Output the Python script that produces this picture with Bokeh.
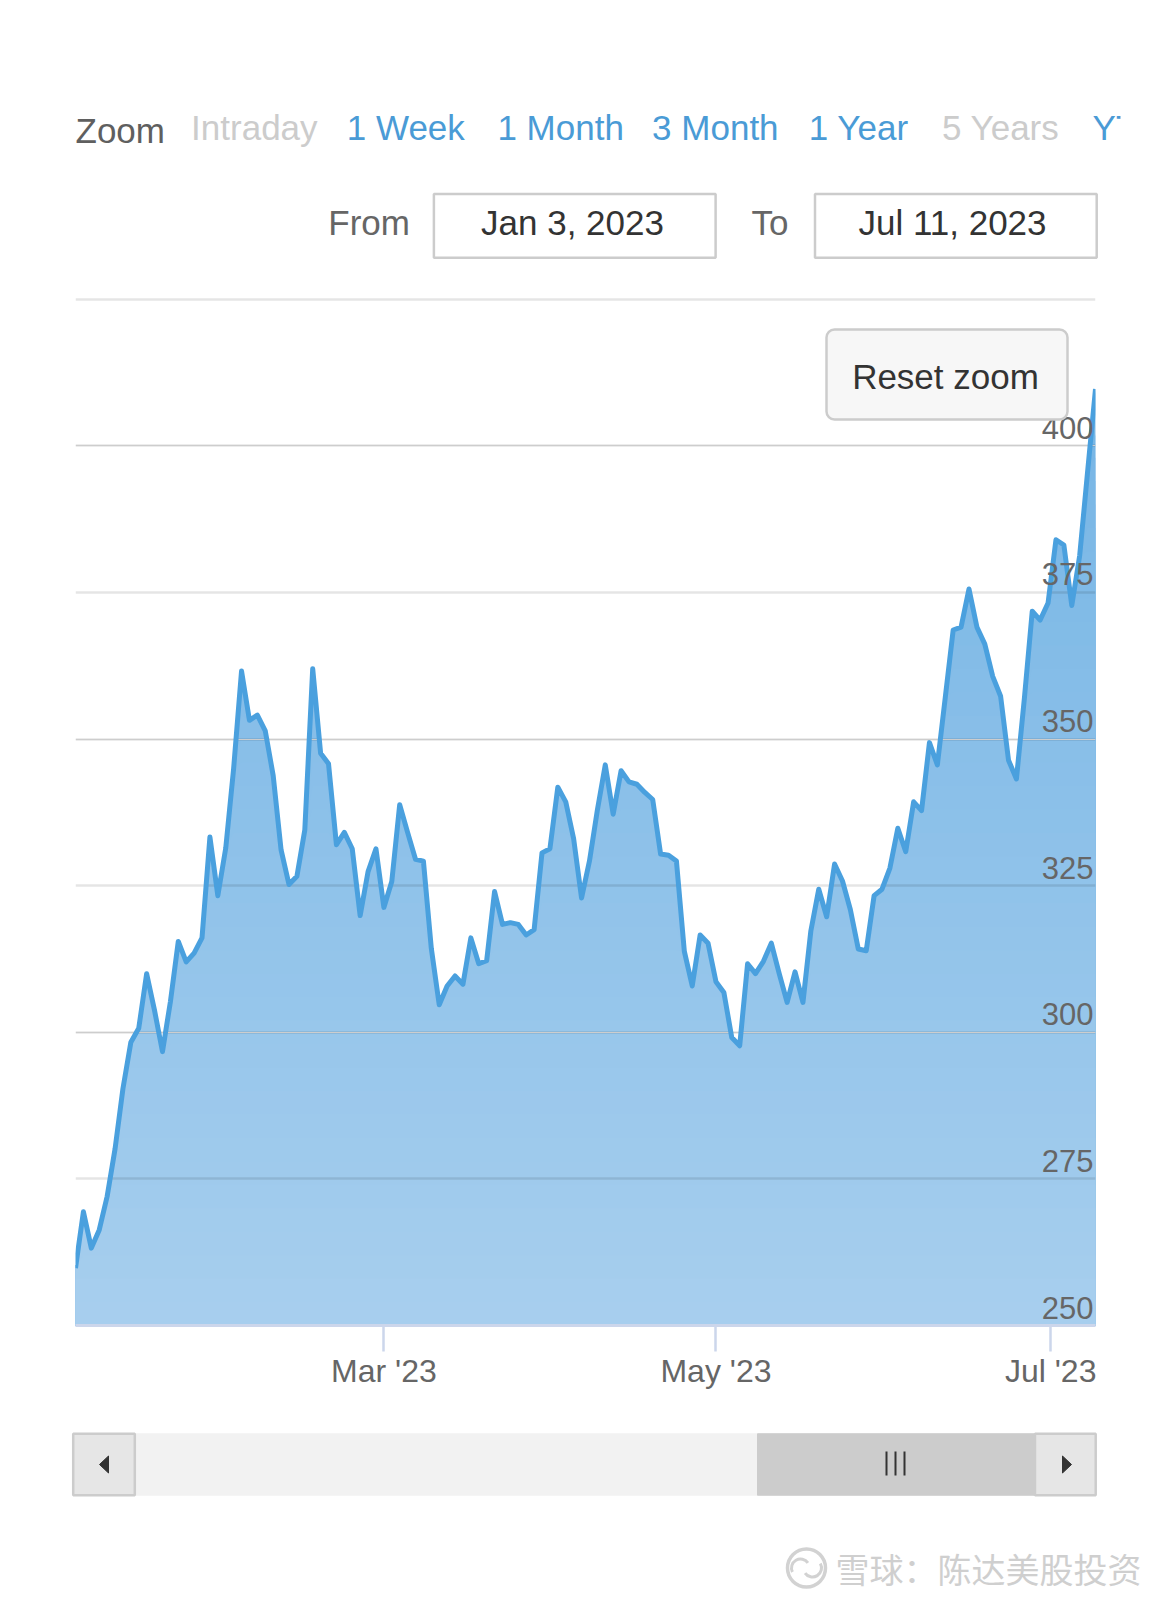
import numpy as np
import pandas as pd
from bokeh.plotting import figure
from bokeh.models import Range1d, FixedTicker, BoxAnnotation, Label, Grid, CustomJSTickFormatter
from bokeh.layouts import column
from bokeh.embed import file_html
from bokeh.resources import INLINE
from bokeh.core.properties import value

# ---------------- data ----------------
FIRST_DAY = "2023-01-03"
LAST_DAY = "2023-07-11"
MARKET_HOLIDAYS = ["2023-01-16", "2023-02-20", "2023-04-07",
                   "2023-05-29", "2023-06-19", "2023-07-04"]

CLOSE = [
    259.8, 269.4, 263.2, 266.3, 272.0, 280.1, 290.4, 298.3, 300.7, 310.0,
    303.7, 296.7, 305.2, 315.5, 312.0, 313.5, 316.1, 333.3, 323.3, 331.4,
    345.0, 361.6, 353.2, 354.1, 351.4, 343.8, 331.1, 325.2, 326.6, 334.5,
    362.0, 347.6, 345.8, 332.0, 334.1, 331.3, 319.9, 327.4, 331.3, 321.3,
    325.7, 338.8, 334.1, 329.5, 329.2, 314.3, 304.7, 307.9, 309.6, 308.2,
    316.1, 311.7, 312.2, 324.0, 318.4, 318.7, 318.4, 316.6, 317.5, 330.6,
    331.3, 341.8, 339.3, 333.0, 322.9, 329.2, 337.9, 345.6, 337.2, 344.6,
    342.7, 342.3, 340.9, 339.7, 330.4, 330.2, 329.2, 313.8, 307.9, 316.6,
    315.2, 308.6, 306.8, 299.1, 297.7, 311.7, 310.0, 312.1, 315.2, 310.0,
    305.1, 310.3, 305.1, 317.3, 324.4, 319.7, 328.7, 325.8, 320.9, 314.2,
    313.9, 323.3, 324.4, 328.0, 334.8, 330.8, 339.3, 337.8, 349.4, 345.6,
    357.1, 368.6, 369.1, 375.6, 369.1, 366.2, 360.7, 357.3, 346.4, 343.2,
    356.9, 371.8, 370.3, 373.2, 384.0, 383.1, 372.8, 381.3, 395.6, 409.7,
]

Y_TICKS = [250, 275, 300, 325, 350, 375, 400, 425]
Y_TICK_LABELS = ["250", "275", "300", "325", "350", "375", "400"]
X_TICK_DATES = ["2023-03-01", "2023-05-01", "2023-07-01"]
X_TICK_LABELS = ["Mar '23", "May '23", "Jul '23"]

RANGE_BUTTONS = ["Intraday", "1 Week", "1 Month", "3 Month", "1 Year", "5 Years", "YTD"]
RANGE_BUTTON_ACTIVE = [False, True, True, True, True, False, True]
ZOOM_LABEL = "Zoom"
FROM_LABEL = "From"
TO_LABEL = "To"
FROM_DATE = "Jan 3, 2023"
TO_DATE = "Jul 11, 2023"
RESET_LABEL = "Reset zoom"
WATERMARK = "雪球：陈达美股投资"

# ---------------- styles ----------------
FONT = "Liberation Sans"
CJK = "Noto Sans CJK SC"
LINE_BLUE = "#4aa0de"
FILL_TOP_RGB = (118, 181, 229)     # fill colour near the top of the series
FILL_BOTTOM_RGB = (168, 207, 238)  # fill colour at the axis
GRADIENT_TOP = 410
LINK_BLUE = "#4a9bd6"
AXIS = "#ccd6eb"
LABEL_GRAY = "#666666"
PAGE_W = 1170

Y_MIN, Y_MAX = 250, 426.5
FRAME_LEFT, FRAME_W = 75, 1020
HEAD_H = 290
FRAME_H = 1035
BOTTOM_H = 75
FOOT_H = 207

dates = pd.bdate_range(FIRST_DAY, LAST_DAY, freq="C", holidays=MARKET_HOLIDAYS)
n = len(dates)
idx = np.arange(n)
vals = np.array(CLOSE[:n], dtype=float)
tick_pos = [float(t) for t in np.interp(pd.to_datetime(X_TICK_DATES).asi8, dates.asi8, idx)]


def clean(fig):
    fig.outline_line_color = None
    fig.background_fill_color = "white"
    fig.border_fill_color = "white"
    try:
        fig.frame_align = False
    except Exception:
        pass


def screen_fig(h):
    f = figure(width=PAGE_W, height=h, x_range=Range1d(0, PAGE_W), y_range=Range1d(h, 0),
               x_axis_location=None, y_axis_location=None, output_backend="svg",
               toolbar_location=None, min_border=0)
    clean(f)
    f.grid.visible = False
    return f


def mix(t):
    c = [b + t * (a - b) for a, b in zip(FILL_TOP_RGB, FILL_BOTTOM_RGB)]
    return "#%02x%02x%02x" % tuple(int(round(v)) for v in c)


# ---------------- header (range selector + inputs) ----------------
head = screen_fig(HEAD_H)
head.text(x=[75], y=[129.6], text=[ZOOM_LABEL], text_font=value(FONT), text_font_size="35px",
          text_color="#5f5f5f", text_baseline="middle", text_align="left")
btn_x = [190.6, 346.3, 496.9, 651.6, 808.3, 941.5, 1092.1]
head.text(x=btn_x, y=[127] * len(btn_x), text=RANGE_BUTTONS, text_font=value(FONT),
          text_font_size="35px",
          text_color=[LINK_BLUE if a else "#cccccc" for a in RANGE_BUTTON_ACTIVE],
          text_baseline="middle", text_align="left")
# the last button is cut by the container edge
head.quad(left=[1120], right=[PAGE_W], top=[70], bottom=[170], fill_color="white", line_color=None)
head.quad(left=[1117], right=[1120], top=[70], bottom=[112], fill_color="white", line_color=None)

head.text(x=[327.8, 751], y=[222.3, 222.3], text=[FROM_LABEL, TO_LABEL], text_font=value(FONT),
          text_font_size="35px", text_color=LABEL_GRAY, text_baseline="middle", text_align="left")
head.quad(left=[433.4, 814.5], right=[715.1, 1096.2], top=[193.6, 193.6], bottom=[257.2, 257.2],
          fill_color="white", line_color="#cccccc", line_width=2.5)
head.text(x=[572, 952], y=[222.3, 222.3], text=[FROM_DATE, TO_DATE], text_font=value(FONT),
          text_font_size="35px", text_color="#333333", text_baseline="middle", text_align="center")

# ---------------- main chart ----------------
p = figure(frame_width=FRAME_W, frame_height=FRAME_H, x_range=Range1d(0, n - 1),
           y_range=Range1d(Y_MIN, Y_MAX), y_axis_location=None, output_backend="svg",
           toolbar_location=None, min_border_left=FRAME_LEFT,
           min_border_right=PAGE_W - FRAME_LEFT - FRAME_W,
           min_border_top=0, min_border_bottom=BOTTOM_H)
clean(p)
p.xgrid.visible = False
# semi-transparent grid drawn over the fill (looks #e6e6e6 on white)
p.add_layout(Grid(dimension=1, ticker=FixedTicker(ticks=Y_TICKS), grid_line_color="black",
                  grid_line_alpha=0.1, grid_line_width=2.5))

# vertical gradient fill: opaque layers, each covering the area from the axis up to a level
levels = np.linspace(GRADIENT_TOP, Y_MIN, 41)
p.varea(x=idx, y1=Y_MIN, y2=vals, fill_color=mix(1.0), level="image")
for L in levels[1:-1]:
    t = (L - Y_MIN) / (GRADIENT_TOP - Y_MIN)
    p.varea(x=idx, y1=Y_MIN, y2=np.minimum(vals, L), fill_color=mix(t), level="image")
p.line(x=idx, y=vals, line_color=LINE_BLUE, line_width=5, line_join="round")

p.text(x=[n - 1] * len(Y_TICK_LABELS), y=Y_TICKS[:len(Y_TICK_LABELS)], text=Y_TICK_LABELS,
       text_font=value(FONT), text_font_size="31px", text_color=LABEL_GRAY,
       text_align="right", text_baseline="middle", x_offset=-2, y_offset=-18)

xa = p.xaxis[0]
xa.ticker = FixedTicker(ticks=tick_pos)
xa.formatter = CustomJSTickFormatter(args=dict(pos=tick_pos, labels=X_TICK_LABELS), code="""
let best = 0;
for (let i = 0; i < pos.length; i++) {
  if (Math.abs(pos[i] - tick) < Math.abs(pos[best] - tick)) best = i;
}
return labels[best];
""")
xa.axis_line_color = AXIS
xa.axis_line_width = 3
xa.major_tick_line_color = AXIS
xa.major_tick_line_width = 2.5
xa.major_tick_in = 0
xa.major_tick_out = 26
xa.minor_tick_line_color = None
xa.major_label_text_font = FONT
xa.major_label_text_font_size = "32px"
xa.major_label_text_color = LABEL_GRAY
xa.major_label_standoff = 1


def px2x(px):
    return (px - FRAME_LEFT) / FRAME_W * (n - 1)


def px2y(py):
    return Y_MIN + (HEAD_H + FRAME_H - py) / FRAME_H * (Y_MAX - Y_MIN)


p.add_layout(BoxAnnotation(left=px2x(826), right=px2x(1067), top=px2y(329), bottom=px2y(419),
                           fill_color="#f7f7f7", fill_alpha=1, line_color="#cccccc", line_width=2.5,
                           line_alpha=1, border_radius=8, level="annotation"))
p.add_layout(Label(x=px2x(945), y=px2y(375.5), text=RESET_LABEL, text_align="center",
                   text_baseline="middle", text_font=FONT, text_font_size="35px",
                   text_color="#333333"))

# ---------------- footer (scrollbar + watermark) ----------------
foot = screen_fig(FOOT_H)
foot.quad(left=[72.7], right=[1095.2], top=[33.3], bottom=[94.7], fill_color="#f2f2f2",
          line_color="#f2f2f2", line_width=1)
foot.quad(left=[757], right=[1034.5], top=[33.3], bottom=[94.7], fill_color="#cccccc",
          line_color="#cccccc", line_width=1)
foot.quad(left=[72.7, 1034.5], right=[134.3, 1095.2], top=[33.3, 33.3], bottom=[94.7, 94.7],
          fill_color="#e6e6e6", line_color="#cccccc", line_width=2.5)
foot.patches(xs=[[99, 108, 108], [1071, 1062, 1062]], ys=[[64, 55.5, 72.5], [64, 55.5, 72.5]],
             fill_color="#333333", line_color="#333333", line_width=1)
foot.segment(x0=[886, 895, 904], x1=[886, 895, 904], y0=[51, 51, 51], y1=[75, 75, 75],
             line_color="#333333", line_width=2)

# watermark
foot.circle(x=[806], y=[167.5], radius=19, fill_color=None, line_color="#d2d2d2", line_width=3.5)
foot.arc(x=[800, 812], y=[167.5, 167.5], radius=9, start_angle=[0.6, 3.74], end_angle=[3.6, 6.8],
         line_color="#d2d2d2", line_width=3)
foot.text(x=[835], y=[167.5], text=[WATERMARK], text_font=value(CJK), text_font_size="34px",
          text_color="#cfcfcf", text_baseline="middle", text_align="left")

layout = column(head, p, foot, spacing=0)
open("out.html", "w").write(file_html(layout, INLINE))
